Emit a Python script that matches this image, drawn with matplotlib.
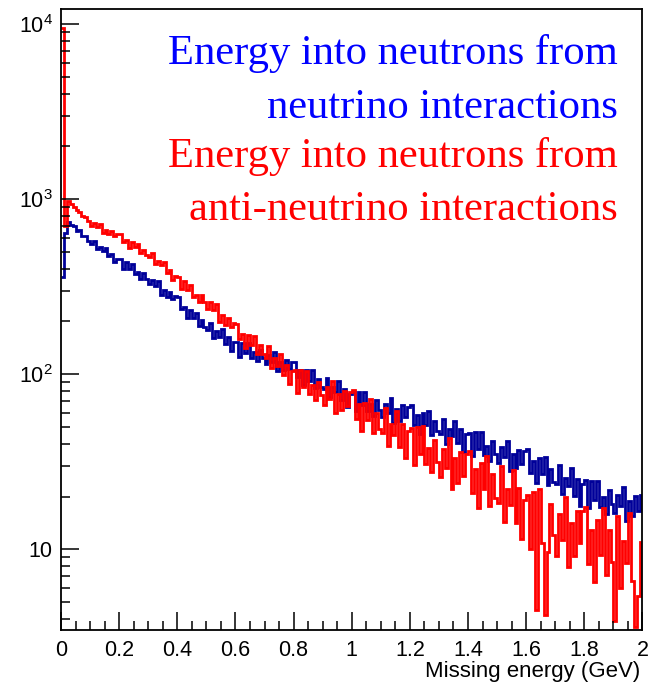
import numpy as np
import matplotlib
matplotlib.use("Agg")
from matplotlib import pyplot as plt
from matplotlib.ticker import FixedLocator, FuncFormatter, LogLocator, MultipleLocator

# histogram contents, 0.01 GeV bins from 0 to 2 GeV
energy_lo = 0.0
energy_hi = 2.0

neutrino_counts = [
    360, 640, 740, 712, 705, 655, 662, 618, 612, 578,
    556, 575, 517, 531, 508, 525, 473, 486, 439, 456,
    452, 399, 439, 400, 424, 374, 383, 351, 377, 348,
    326, 344, 318, 339, 284, 302, 276, 295, 269, 280,
    276, 235, 243, 209, 232, 208, 225, 189, 203, 186,
    178, 197, 160, 176, 163, 181, 149, 164, 136, 152,
    152, 126, 151, 132, 150, 124, 133, 119, 137, 123,
    115, 129, 117, 133, 104, 118, 105, 120, 107, 117,
    118, 96, 105, 87, 105, 92, 106, 83, 94, 84,
    82, 95, 74, 84.5, 78.6, 92, 71.6, 82.8, 65, 77,
    79, 61.5, 79.5, 66.7, 79.6, 61.8, 68, 58, 71.5, 62.4,
    56.8, 67.5, 59.8, 73.2, 52.5, 63.2, 54.1, 66.4, 57, 65.2,
    66.7, 51.1, 58.1, 45.4, 60.2, 51.1, 61.9, 45, 53.8, 47.3,
    45.4, 55.7, 39.8, 48.9, 44.2, 54, 40.2, 48.4, 35.8, 45.6,
    46.4, 34.3, 47, 37.6, 47, 34.6, 38.8, 32.1, 41.7, 35,
    31.2, 38.6, 33.5, 41.5, 28, 35.2, 29.3, 36.9, 30.8, 36.5,
    37.4, 27.4, 32.1, 24, 33, 26.8, 33.8, 23.3, 28.9, 24.3,
    23.7, 30.4, 20.6, 25.7, 22.9, 29.1, 20.1, 25.2, 17.7, 23.6,
    24.8, 17.2, 24.7, 19.1, 24.5, 17.4, 20, 15.8, 21.9, 18.1,
    16.1, 20.4, 17.6, 22.7, 14.6, 18.9, 15.5, 20.1, 16.6, 20.5,
]

antineutrino_counts = [
    9500, 700, 975, 935, 905, 862, 842, 798, 785, 752,
    705, 729, 693, 720, 644, 670, 631, 657, 619, 634,
    630, 568, 582, 528, 567, 529, 555, 491, 513, 481,
    466, 491, 424, 443, 418, 439, 380, 396, 346, 365,
    358, 308, 340, 304, 322, 277, 285, 259, 282, 258,
    237, 257, 232, 253, 199, 217, 191, 210, 186, 197,
    194, 159, 170, 142, 167, 146, 165, 130, 146, 130,
    124, 144, 108, 124, 112, 130, 99.5, 113, 88, 104,
    106, 78.3, 105, 84.9, 104, 76.8, 86.2, 71.6, 90.7, 76.4,
    66.8, 84.4, 72, 91.8, 60, 76.6, 62.5, 80.6, 65.9, 78.7,
    81.4, 55.7, 67.2, 47.3, 68.9, 54.9, 72.3, 46, 60, 48.9,
    46.1, 64, 38.8, 52.1, 45.1, 62, 38.6, 52.2, 33.3, 47.1,
    49.6, 30.1, 50.1, 35.2, 50.3, 30.8, 37.8, 27.6, 42, 31.7,
    25.8, 37.5, 29.3, 43.3, 22.2, 33, 24, 36, 26.3, 35.2,
    36.5, 20.9, 28.6, 17.1, 31, 22, 34.2, 17.6, 26.9, 19.7,
    18.3, 30, 14.3, 22.2, 17.8, 28.5, 14.2, 22.3, 11.5, 19.1,
    20.4, 10.1, 21.3, 4.5, 22.1, 10.9, 4.2, 9.7, 18.1, 12,
    9.2, 15.9, 11.3, 19.8, 7.9, 14.2, 9.1, 16.5, 10.8, 16.6,
    17.4, 8.2, 12.9, 6.5, 14.7, 9.3, 17.2, 7.1, 12.9, 8.5,
    3.9, 15.4, 6, 11.1, 8.4, 16.2, 6.6, 3.6, 5.4, 11,
]

legend_lines = [
    ("Energy into neutrons from", "#0000ff"),
    ("neutrino interactions", "#0000ff"),
    ("Energy into neutrons from", "#ff0000"),
    ("anti-neutrino interactions", "#ff0000"),
]

plt.rcParams["font.family"] = ["Liberation Sans", "DejaVu Sans"]
plt.rcParams["mathtext.fontset"] = "custom"
plt.rcParams["mathtext.rm"] = "Liberation Sans"
plt.rcParams["mathtext.it"] = "Liberation Sans"

fig = plt.figure(figsize=(6.48, 6.85), dpi=100)
ax = fig.add_axes([0.0941, 0.0803, 0.8974, 0.9066])

edges = np.linspace(energy_lo, energy_hi, len(neutrino_counts) + 1)
ax.stairs(neutrino_counts, edges, baseline=None, color="#000099", linewidth=2.0)
ax.stairs(antineutrino_counts, edges, baseline=None, color="#ff0000", linewidth=2.0)

ax.set_yscale("log")
ax.set_xlim(energy_lo, energy_hi)
ax.set_ylim(3.46, 12180)

#--- ROOT-ish axes
ax.xaxis.set_major_locator(MultipleLocator(0.2))
ax.xaxis.set_minor_locator(MultipleLocator(0.05))
ax.xaxis.set_major_formatter(FuncFormatter(lambda v, p: "%g" % round(v, 2)))

ax.yaxis.set_major_locator(FixedLocator([10, 100, 1000, 10000]))
ax.yaxis.set_minor_locator(LogLocator(base=10, subs=np.arange(2, 10)))
ylabels = {10: "10", 100: "$10^{2}$", 1000: "$10^{3}$", 10000: "$10^{4}$"}
ax.yaxis.set_major_formatter(FuncFormatter(lambda v, p: ylabels.get(int(round(v)), "")))
ax.yaxis.set_minor_formatter(FuncFormatter(lambda v, p: ""))

ax.tick_params(which="both", direction="in", top=False, right=False, width=1.1,
               labelsize=15.5, colors="black")
ax.tick_params(which="major", length=13)
ax.tick_params(which="minor", length=6.5)
ax.tick_params(axis="x", pad=7)
ax.tick_params(axis="y", pad=6)
for s in ax.spines.values():
    s.set_linewidth(1.3)

ax.set_xlabel("Missing energy (GeV)", fontsize=16, loc="right")
ax.xaxis.set_label_coords(0.997, -0.05)

# legend text, right aligned like the original
baselines = [0.9114, 0.824, 0.746, 0.660]
for (txt, col), yb in zip(legend_lines, baselines):
    ax.text(0.958, yb, txt, transform=ax.transAxes, ha="right", va="baseline",
            color=col, fontsize=30.7, family=["Liberation Serif", "DejaVu Serif"])

fig.savefig("out.png", dpi=100)
